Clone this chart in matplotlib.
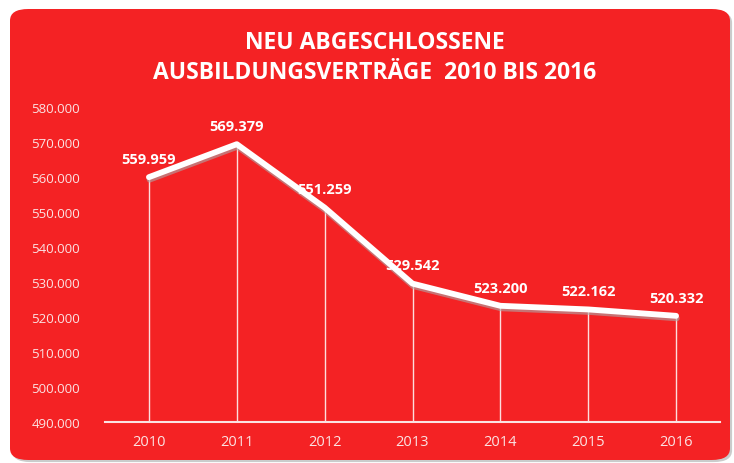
import matplotlib.pyplot as plt
import matplotlib.patheffects as pe
from matplotlib.patches import FancyBboxPatch

years = ["2010", "2011", "2012", "2013", "2014", "2015", "2016"]
vertraege = [559959, 569379, 551259, 529542, 523200, 522162, 520332]
yticks = list(range(490000, 580001, 10000))

red = "#f42224"

fig = plt.figure(figsize=(7.34, 4.64), dpi=100)
fig.patch.set_facecolor("white")

# red rounded panel behind the chart
panel = FancyBboxPatch((10 / 734, 3 / 464), 720 / 734, 451 / 464,
                       boxstyle="round,pad=0,rounding_size=0.025",
                       transform=fig.transFigure, facecolor=red,
                       edgecolor="none", zorder=-5,
                       path_effects=[pe.withSimplePatchShadow(offset=(1.5, -1.5), shadow_rgbFace="#999999", alpha=0.5)])
fig.patches.append(panel)

ax = fig.add_axes([105 / 734, 41 / 464, 615 / 734, 315 / 464])
ax.set_facecolor("none")

x = list(range(len(years)))
ax.vlines(x, yticks[0], vertraege, color="white", lw=1.0, alpha=0.85, zorder=2)
ax.plot(x, vertraege, color="white", lw=4.2, solid_capstyle="round", zorder=3,
        path_effects=[pe.SimpleLineShadow(offset=(0.5, -1.8), shadow_color="#aaaaaa", alpha=0.6), pe.Normal()])

for xi, v in zip(x, vertraege):
    ax.annotate(f"{v:,}".replace(",", "."), (xi, v), xytext=(0, 8), textcoords="offset points",
                ha="center", va="bottom", color="white", fontsize=10.5, fontweight="bold",
                family="Open Sans", zorder=4)

ax.set_xlim(-0.5, 6.5)
ax.set_ylim(490000, 580000)
ax.set_xticks(x)
ax.set_xticklabels(years, family="Open Sans", fontsize=10.5, color="#fbe3e3")
ax.set_yticks(yticks)
ax.set_yticklabels([f"{t:,}".replace(",", ".") for t in yticks], family="Open Sans",
                   fontsize=9.5, color="#fbe3e3")
ax.tick_params(axis="y", length=0, pad=18)
ax.tick_params(axis="x", length=0, pad=9)
for s in ["top", "right", "left"]:
    ax.spines[s].set_visible(False)
ax.spines["bottom"].set_color("#fbe3e3")
ax.spines["bottom"].set_linewidth(1.5)

fig.text(375 / 734, 1 - 43 / 464, "NEU ABGESCHLOSSENE", ha="center", va="center",
         color="white", fontsize=16.5, fontweight="bold", family="Open Sans")
fig.text(375 / 734, 1 - 73 / 464, "AUSBILDUNGSVERTRÄGE  2010 BIS 2016", ha="center", va="center",
         color="white", fontsize=16.5, fontweight="bold", family="Open Sans")

fig.savefig("out.png", dpi=100)
